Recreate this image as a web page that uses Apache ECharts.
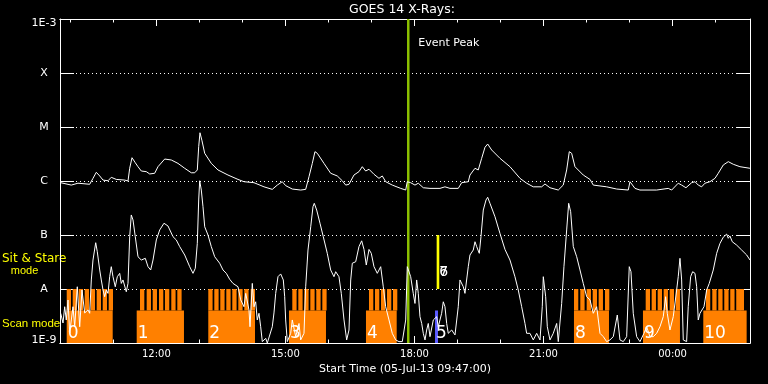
<!DOCTYPE html>
<html><head><meta charset="utf-8">
<script src="https://cdn.jsdelivr.net/npm/echarts@6/dist/echarts.min.js"></script>
<style>html,body{margin:0;padding:0;background:#000;}#c{width:768px;height:384px;}</style>
</head><body><div id="c"></div>
<script>
// ---- axes (time in decimal hours of 05-Jul-13; >24 = next day) ----
const xMin = 9.76, xMax = 25.8;
const majorHours = [12, 15, 18, 21, 24];
const xTickLabels = ['12:00', '15:00', '18:00', '21:00', '00:00'];
const minorHours = [10, 11, 12, 13, 14, 15, 16, 17, 18, 19, 20, 21, 22, 23, 24, 25];
const fluxMin = 1e-9, fluxMax = 1e-3;
const yTickLabels = ['1E-9', 'A', 'B', 'C', 'M', 'X', '1E-3'];

// ---- GOES 14 long channel (1-8 A) ----
const longTime = [9.776,10.023,10.178,10.45,10.527,10.604,10.683,10.76,10.876,10.952,
11.069,11.264,11.341,11.38,11.434,11.51,11.573,11.65,11.766,11.845,
11.961,12.038,12.194,12.347,12.503,12.659,12.812,12.891,12.952,12.984,
13.014,13.061,13.124,13.277,13.433,13.665,13.898,14.037,14.27,14.502,
14.695,14.811,14.927,15.006,15.16,15.355,15.471,15.548,15.625,15.687,
15.741,15.897,16.052,16.206,16.322,16.401,16.478,16.594,16.71,16.787,
16.866,16.943,17.059,17.175,17.252,17.331,17.484,17.68,17.796,17.833,
17.912,18.012,18.089,18.205,18.361,18.593,18.709,18.826,19.018,19.098,
19.251,19.29,19.407,19.483,19.562,19.639,19.702,19.795,19.988,20.22,
20.453,20.608,20.762,20.957,21.034,21.15,21.343,21.459,21.538,21.599,
21.654,21.731,21.924,22.08,22.157,22.468,22.701,22.97,23.01,23.126,
23.242,23.63,23.9,23.979,24.132,24.172,24.211,24.311,24.444,24.521,
24.597,24.676,24.753,24.869,24.986,25.062,25.179,25.295,25.411,25.566,
25.799];
const longFlux = [9.3e-7,8.4e-7,9.1e-7,8.7e-7,1.12e-6,1.45e-6,1.24e-6,1.04e-6,1.01e-6,1.17e-6,
1.07e-6,1.04e-6,1.0e-6,1.72e-6,2.7e-6,2.18e-6,1.84e-6,1.53e-6,1.49e-6,1.35e-6,
1.39e-6,1.84e-6,2.55e-6,2.45e-6,2.12e-6,1.72e-6,1.42e-6,1.42e-6,1.6e-6,4.32e-6,
7.83e-6,5.55e-6,3.26e-6,2.12e-6,1.6e-6,1.29e-6,1.07e-6,9.7e-7,9.3e-7,7.8e-7,
7.0e-7,8.4e-7,9.7e-7,8.2e-7,7.1e-7,6.8e-7,7.0e-7,1.2e-6,2.12e-6,3.49e-6,
3.26e-6,2.12e-6,1.39e-6,1.24e-6,1.01e-6,8.4e-7,8.7e-7,1.29e-6,1.49e-6,1.84e-6,
1.53e-6,1.65e-6,1.33e-6,1.12e-6,1.24e-6,9.7e-7,8.4e-7,7.3e-7,6.8e-7,9.7e-7,
9.3e-7,8.4e-7,9.1e-7,7.5e-7,7.3e-7,7.3e-7,7.8e-7,7.3e-7,7.3e-7,9.3e-7,
9.7e-7,1.29e-6,1.72e-6,1.6e-6,2.63e-6,4.21e-6,4.84e-6,3.75e-6,2.63e-6,1.84e-6,
1.12e-6,9.1e-7,7.8e-7,7.8e-7,8.8e-7,7.5e-7,6.8e-7,8.4e-7,1.6e-6,3.49e-6,
3.26e-6,1.84e-6,1.29e-6,1.07e-6,8.4e-7,7.8e-7,7.1e-7,6.8e-7,9.7e-7,7.3e-7,
6.8e-7,6.8e-7,7.3e-7,6.8e-7,9.1e-7,9.7e-7,8.4e-7,7.5e-7,9.3e-7,9.7e-7,
8.4e-7,7.8e-7,9.1e-7,9.7e-7,1.12e-6,1.39e-6,1.98e-6,2.28e-6,2.04e-6,1.84e-6,
1.72e-6];

// ---- GOES 14 short channel (0.5-4 A) ----
const shortTime = [9.776,9.83,9.869,9.906,9.946,9.985,10.062,10.102,10.162,10.218,
10.271,10.334,10.411,10.45,10.488,10.527,10.59,10.627,10.683,10.72,
10.76,10.799,10.836,10.876,10.915,10.952,10.992,11.045,11.092,11.148,
11.185,11.224,11.301,11.341,11.38,11.417,11.457,11.51,11.573,11.65,
11.743,11.806,11.868,11.922,11.999,12.078,12.177,12.27,12.387,12.463,
12.542,12.659,12.775,12.852,12.905,12.952,12.984,13.007,13.045,13.084,
13.124,13.2,13.277,13.356,13.472,13.549,13.626,13.705,13.781,13.898,
13.96,14.037,14.077,14.153,14.177,14.23,14.27,14.309,14.346,14.386,
14.425,14.463,14.542,14.579,14.695,14.734,14.774,14.827,14.89,14.951,
14.983,15.006,15.044,15.123,15.16,15.239,15.316,15.355,15.432,15.471,
15.525,15.588,15.641,15.671,15.727,15.804,15.88,15.973,16.052,16.129,
16.169,16.245,16.299,16.362,16.424,16.478,16.518,16.555,16.634,16.71,
16.773,16.827,16.88,16.943,16.996,17.059,17.136,17.215,17.275,17.331,
17.408,17.484,17.563,17.64,17.717,17.796,17.833,17.912,17.972,18.012,
18.051,18.089,18.128,18.168,18.205,18.245,18.284,18.321,18.361,18.438,
18.516,18.553,18.632,18.67,18.709,18.749,18.786,18.865,18.942,19.018,
19.058,19.135,19.174,19.251,19.29,19.367,19.407,19.446,19.507,19.546,
19.6,19.663,19.702,19.755,19.872,19.988,20.104,20.22,20.336,20.413,
20.492,20.569,20.608,20.685,20.762,20.841,20.918,20.971,20.995,21.011,
21.05,21.088,21.15,21.227,21.306,21.343,21.422,21.475,21.538,21.585,
21.631,21.692,21.771,21.848,21.924,22.003,22.08,22.157,22.236,22.313,
22.39,22.468,22.545,22.622,22.715,22.777,22.854,22.933,22.993,23.033,
23.086,23.126,23.165,23.242,23.335,23.398,23.474,23.551,23.63,23.707,
23.784,23.839,23.877,23.939,24.016,24.095,24.132,24.172,24.211,24.249,
24.327,24.364,24.42,24.467,24.521,24.56,24.597,24.637,24.676,24.73,
24.793,24.853,24.946,25.025,25.102,25.179,25.258,25.295,25.334,25.388,
25.49,25.606,25.723,25.8];
const shortFlux = [3.55e-9,2.35e-9,4.7e-9,2.67e-9,6.26e-9,1.53e-9,4.7e-9,2.0e-9,1.1e-8,2.0e-9,
9.6e-9,3.6e-9,4.1e-9,3.55e-9,1.47e-8,3.44e-8,7.2e-8,4.9e-8,2.25e-8,1.47e-8,
9.6e-9,7.2e-9,9.6e-9,8.3e-9,1.69e-8,2.59e-8,1.69e-8,1.1e-8,1.69e-8,1.95e-8,
1.27e-8,1.47e-8,8.9e-9,1.27e-8,9.3e-8,2.35e-7,1.9e-7,9.3e-8,3.96e-8,3.44e-8,
3.7e-8,2.59e-8,2.25e-8,3.44e-8,8.1e-8,1.24e-7,1.65e-7,1.47e-7,9.3e-8,8.1e-8,
6.1e-8,4.26e-8,2.59e-8,1.95e-8,2.42e-8,7.0e-8,4.45e-7,1.01e-6,6.8e-7,3.34e-7,
1.42e-7,1.0e-7,6.1e-8,3.96e-8,3.0e-8,2.25e-8,1.95e-8,1.51e-8,1.27e-8,1.1e-8,
6.3e-9,4.7e-9,8.3e-9,4.1e-9,2.0e-9,1.27e-8,4.7e-9,5.8e-9,2.67e-9,3.55e-9,
2.0e-9,1.06e-9,1.22e-9,1.0e-9,2.0e-9,3.6e-9,8.3e-9,1.69e-8,1.9e-8,1.47e-8,
7.2e-9,2.67e-9,1.06e-9,1.51e-9,2.67e-9,1.31e-9,2.3e-9,1.14e-9,1.51e-9,1.1e-8,
5.27e-8,1.42e-7,3.34e-7,3.86e-7,2.9e-7,1.65e-7,9.3e-8,4.58e-8,2.25e-8,1.69e-8,
2.09e-8,1.69e-8,8.3e-9,2.67e-9,1.14e-9,1.74e-9,1.47e-8,3.0e-8,3.2e-8,6.1e-8,
7.8e-8,5.4e-8,2.78e-8,5.4e-8,4.58e-8,2.59e-8,1.95e-8,2.59e-8,1.1e-8,4.7e-9,
2.67e-9,1.51e-9,1.14e-9,1.06e-9,1.06e-9,2.67e-9,2.59e-8,1.69e-8,8.3e-9,5.4e-9,
1.47e-8,8.3e-9,3.07e-9,2.3e-9,1.51e-9,1.14e-9,1.74e-9,2.3e-9,1.31e-9,2.67e-9,
3.07e-9,2.0e-9,3.55e-9,5.8e-9,4.7e-9,2.3e-9,1.51e-9,1.74e-9,1.41e-9,4.7e-9,
1.47e-8,1.1e-8,8.3e-9,2.59e-8,4.26e-8,5.27e-8,7.5e-8,6.1e-8,4.58e-8,9.3e-8,
2.9e-7,4.45e-7,5.0e-7,3.86e-7,2.18e-7,1.07e-7,5.4e-8,3.44e-8,1.69e-8,9.6e-9,
4.7e-9,2.3e-9,1.51e-9,1.51e-9,1.14e-9,1.51e-9,1.14e-9,4.7e-9,1.69e-8,1.82e-8,
7.2e-9,2.0e-9,1.14e-9,1.51e-9,2.3e-9,1.06e-9,5.4e-9,2.59e-8,1.24e-7,3.86e-7,
2.7e-7,6.1e-8,3.96e-8,2.25e-8,1.27e-8,7.2e-9,6.3e-9,3.55e-9,4.7e-9,1.51e-9,
1.31e-9,1.06e-9,1.14e-9,1.31e-9,3.3e-9,1.14e-9,1.06e-9,1.31e-9,2.59e-8,2.09e-8,
3.55e-9,3.8e-9,1.31e-9,1.06e-9,1.51e-9,2.0e-9,1.31e-9,1.31e-9,1.51e-9,2.0e-9,
3.07e-9,7.2e-9,3.55e-9,1.74e-9,3.07e-9,9.6e-9,1.69e-8,3.7e-8,1.47e-8,1.14e-9,
1.06e-9,4.7e-9,1.69e-8,2.09e-8,1.95e-8,1.1e-8,2.67e-9,3.55e-9,3.8e-9,4.7e-9,
9.6e-9,1.27e-8,2.25e-8,4.58e-8,7.0e-8,9.1e-8,1.04e-7,8.7e-8,9.6e-8,7.5e-8,
6.5e-8,5.27e-8,4.26e-8,3.44e-8];

// ---- observing timeline (scan mode blocks and their raster steps) ----
const scanLabels = ['0', '1', '2', '3', '4', '8', '9', '10'];
const scanStart = [9.916, 11.543, 13.207, 15.083, 16.873, 21.708, 23.312, 24.714];
const scanEnd   = [10.985, 12.642, 14.293, 15.943, 17.587, 22.522, 24.172, 25.722];
const scanSteps = [
  [9.916, 10.055, 10.195, 10.334, 10.474, 10.613, 10.753, 10.892],
  [11.62, 11.775, 11.915, 12.061, 12.2, 12.347, 12.487],
  [13.207, 13.347, 13.486, 13.626, 13.765, 13.905, 14.044, 14.193],
  [15.16, 15.3, 15.439, 15.579, 15.718, 15.858],
  [16.943, 17.082, 17.222, 17.361, 17.501],
  [21.708, 21.855, 22.003, 22.143, 22.282, 22.429],
  [23.375, 23.514, 23.654, 23.793, 23.933, 24.072],
  [24.776, 24.923, 25.062, 25.202, 25.341, 25.48, 25.56]
];
const stepDuration = 0.1;
const scanBaseTop = 4e-9;   // top of a scan block
const levelA = 1e-8, levelB = 1e-7;
const obs5Time = [18.477, 18.547], obs5Label = '5';
const obs6Time = [18.516, 18.577], obs6Labels = ['6', '7'];
const eventPeakTime = 17.856;

const ORANGE = '#ff8000';
const FONT = '"DejaVu Sans", sans-serif';

function toPairs(xs, ys) { return xs.map((x, i) => [x, ys[i]]); }

function rectShape(api) {
  const a = api.coord([api.value(0), api.value(3)]);
  const b = api.coord([api.value(1), api.value(2)]);
  return { a, b, shape: { x: a[0], y: a[1], width: b[0] - a[0], height: b[1] - a[1] } };
}

const scanData = scanStart.map((s, i) => [s, scanEnd[i], fluxMin, scanBaseTop]);
const stepData = [];
scanSteps.forEach(list => list.forEach(s => stepData.push([s, s + stepDuration, scanBaseTop, levelA])));

const chart = echarts.init(document.getElementById('c'), null, { renderer: 'canvas' });

function xAxisCfg(pos, ticks, len, withLabels) {
  return {
    type: 'value', position: pos, min: xMin, max: xMax,
    axisLine: { show: true, onZero: false, lineStyle: { color: '#fff', width: 1 } },
    axisTick: { show: true, inside: true, length: len, customValues: ticks, lineStyle: { color: '#fff', width: 1 } },
    axisLabel: withLabels ? {
      show: true, customValues: majorHours, color: '#fff', fontFamily: FONT, fontSize: 10, margin: 6,
      formatter: v => xTickLabels[majorHours.indexOf(Math.round(v))] || ''
    } : { show: false },
    splitLine: { show: false },
    name: withLabels ? 'Start Time (05-Jul-13 09:47:00)' : '',
    nameLocation: 'middle', nameGap: 20,
    nameTextStyle: { color: '#fff', fontFamily: FONT, fontSize: 11 }
  };
}

const yRich = {
  hi: { color: '#fff', fontFamily: FONT, fontSize: 11, padding: [9, 0, 0, 0] },
  lo: { color: '#fff', fontFamily: FONT, fontSize: 11, padding: [0, 0, 6, 0] }
};

function yAxisCfg(pos, labels) {
  return {
    type: 'log', logBase: 10, min: fluxMin, max: fluxMax, splitNumber: 6, position: pos,
    axisLine: { show: true, lineStyle: { color: '#fff', width: 1 } },
    axisTick: { show: true, inside: true, length: 14, lineStyle: { color: '#fff', width: 1 } },
    axisLabel: labels ? {
      show: true, color: '#fff', fontFamily: FONT, fontSize: 11, align: 'center', margin: 16,
      rich: yRich,
      formatter: v => {
        const i = Math.round(Math.log10(v)) + 9;
        const t = yTickLabels[i] || '';
        if (i === yTickLabels.length - 1) return '{hi|' + t + '}';
        if (i === 0) return '{lo|' + t + '}';
        return t;
      }
    } : { show: false },
    splitLine: labels ? { show: true, lineStyle: { color: '#fff', width: 1, type: [1, 3] } } : { show: false },
    minorTick: { show: false }
  };
}

const option = {
  backgroundColor: '#000',
  animation: false,
  grid: { left: 60, right: 18, top: 19, bottom: 41 },
  xAxis: [
    xAxisCfg('bottom', majorHours, 7, true),
    xAxisCfg('bottom', minorHours, 3.5, false),
    xAxisCfg('top', majorHours, 7, false),
    xAxisCfg('top', minorHours, 3.5, false)
  ],
  yAxis: [yAxisCfg('left', true), yAxisCfg('right', false)],
  graphic: [
    { type: 'text', x: 402, y: 9.5, silent: true, style: { text: 'GOES 14 X-Rays:', fill: '#fff', font: '12.5px ' + FONT, align: 'center', verticalAlign: 'middle' } },
    { type: 'text', x: 2, y: 258.7, silent: true, style: { text: 'Sit & Stare', fill: '#ffff00', font: '12px ' + FONT, align: 'left', verticalAlign: 'middle' } },
    { type: 'text', x: 24.5, y: 271, silent: true, style: { text: 'mode', fill: '#ffff00', font: '11px "Liberation Sans", sans-serif', align: 'center', verticalAlign: 'middle' } },
    { type: 'text', x: 2, y: 324, silent: true, style: { text: 'Scan mode', fill: '#ffff00', font: '11.5px "Liberation Sans", sans-serif', align: 'left', verticalAlign: 'middle' } }
  ],
  series: [
    {
      type: 'custom', name: 'scan', silent: true, encode: { x: [0, 1], y: [2, 3] },
      data: scanData,
      renderItem: (params, api) => {
        const r = rectShape(api);
        return { type: 'group', children: [
          { type: 'rect', shape: r.shape, style: { fill: ORANGE } },
          { type: 'text', x: r.a[0] + 1, y: r.b[1] - 9, style: { text: scanLabels[params.dataIndex], fill: '#fff', font: '17px ' + FONT, align: 'left', verticalAlign: 'middle' } }
        ] };
      }
    },
    {
      type: 'custom', name: 'steps', silent: true, encode: { x: [0, 1], y: [2, 3] },
      data: stepData,
      renderItem: (params, api) => ({ type: 'rect', shape: rectShape(api).shape, style: { fill: ORANGE } })
    },
    {
      type: 'custom', name: 'obs5', silent: true, encode: { x: [0, 1], y: [2, 3] },
      data: [[obs5Time[0], obs5Time[1], fluxMin, scanBaseTop]],
      renderItem: (params, api) => {
        const r = rectShape(api);
        return { type: 'group', children: [
          { type: 'rect', shape: r.shape, style: { fill: '#5a5aff' } },
          { type: 'text', x: r.a[0] + 1, y: r.b[1] - 9, style: { text: obs5Label, fill: '#fff', font: '17px ' + FONT, align: 'left', verticalAlign: 'middle' } }
        ] };
      }
    },
    {
      type: 'custom', name: 'obs6', silent: true, encode: { x: [0, 1], y: [2, 3] },
      data: [[obs6Time[0], obs6Time[1], levelA, levelB]],
      renderItem: (params, api) => {
        const r = rectShape(api);
        const kids = [{ type: 'rect', shape: r.shape, style: { fill: '#ffff00' } }];
        obs6Labels.forEach(t => kids.push({ type: 'text', x: r.b[0], y: r.b[1] - 17, style: { text: t, fill: '#fff', font: '14px ' + FONT, align: 'left', verticalAlign: 'middle' } }));
        return { type: 'group', children: kids };
      }
    },
    {
      type: 'line', name: 'short', silent: true, showSymbol: false, symbol: 'none',
      data: toPairs(shortTime, shortFlux),
      lineStyle: { color: '#fff', width: 1 }
    },
    {
      type: 'line', name: 'long', silent: true, showSymbol: false, symbol: 'none',
      data: toPairs(longTime, longFlux),
      lineStyle: { color: '#fff', width: 1 }
    },
    {
      type: 'custom', name: 'event', silent: true, encode: { x: 0 },
      data: [[eventPeakTime]],
      renderItem: (params, api) => {
        const p = api.coord([api.value(0), fluxMax]);
        const q = api.coord([api.value(0), fluxMin]);
        return { type: 'group', children: [
          { type: 'line', shape: { x1: p[0], y1: p[1], x2: q[0], y2: q[1] }, style: { stroke: '#8cc000', lineWidth: 2.5 } },
          { type: 'text', x: p[0] + 10, y: p[1] + 24, style: { text: 'Event Peak', fill: '#fff', font: '11px ' + FONT, align: 'left', verticalAlign: 'middle' } }
        ] };
      }
    }
  ]
};
chart.setOption(option);
</script>
</body></html>
